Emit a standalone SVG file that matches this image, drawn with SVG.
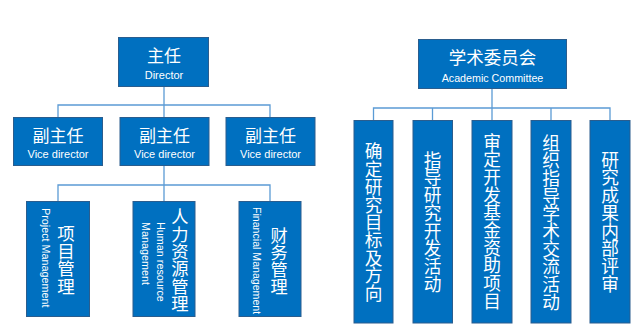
<svg xmlns="http://www.w3.org/2000/svg" width="644" height="336" viewBox="0 0 644 336">
<style>
.box{fill:#0070C0;stroke:#2a5d8e;stroke-width:1}
.ln{fill:none;stroke:#5b9bd5;stroke-width:1.3}
.zh{font-family:"Noto Sans CJK SC","Noto Sans",sans-serif;fill:#fff;text-anchor:middle}
.v{writing-mode:vertical-rl;text-orientation:upright}
.en{font-family:"Liberation Sans",Arial,sans-serif;fill:#fff}
.c{text-anchor:middle}
</style>
<rect width="644" height="336" fill="#fff"/>
<g id="connectors">
<path class="ln" d="M164,87V105M58,117V105H270V117M164,105V117"/>
<path class="ln" d="M164,166V185M58,201V185H270V201M164,185V201"/>
<path class="ln" d="M492,89V108M373.5,120V108H610V120M432.5,108V120M492,108V120M551,108V120"/>
</g>
<g id="director">
<rect class="box" x="118.5" y="37.5" width="90" height="49"/>
<text class="zh" x="164" y="62" font-size="17">主任</text>
<text class="en c" x="164" y="79" font-size="11">Director</text>
</g>
<g id="vice1">
<rect class="box" x="13.5" y="117.5" width="89" height="48"/>
<text class="zh" x="58" y="142" font-size="17">副主任</text>
<text class="en c" x="58" y="158" font-size="11">Vice director</text>
</g>
<g id="vice2">
<rect class="box" x="120" y="117.5" width="89" height="48"/>
<text class="zh" x="164.5" y="142" font-size="17">副主任</text>
<text class="en c" x="164.5" y="158" font-size="11">Vice director</text>
</g>
<g id="vice3">
<rect class="box" x="226" y="117.5" width="89" height="48"/>
<text class="zh" x="270.5" y="142" font-size="17">副主任</text>
<text class="en c" x="270.5" y="158" font-size="11">Vice director</text>
</g>
<g id="project">
<rect class="box" x="26.5" y="201.5" width="63" height="115"/>
<text class="en" font-size="10.8" transform="translate(41.5,208) rotate(90)">Project Management</text>
<text class="zh v" x="66" y="260" font-size="17.5">项目管理</text>
</g>
<g id="hr">
<rect class="box" x="133" y="201.5" width="62" height="115"/>
<text class="en" font-size="10.8" transform="translate(156.5,222) rotate(90)">Human resource</text>
<text class="en" font-size="10.8" transform="translate(142,222) rotate(90)">Management</text>
<text class="zh v" x="180" y="260" font-size="17.3">人力资源管理</text>
</g>
<g id="finance">
<rect class="box" x="239" y="201.5" width="62" height="115"/>
<text class="en" font-size="10.6" transform="translate(253,207) rotate(90)">Financial Management</text>
<text class="zh v" x="279" y="261" font-size="17.2">财务管理</text>
</g>
<g id="academic">
<rect class="box" x="418.5" y="39.5" width="148" height="49"/>
<text class="zh" x="492.5" y="63.5" font-size="17.5">学术委员会</text>
<text class="en c" x="492.5" y="81.5" font-size="10.7">Academic Committee</text>
</g>
<g id="col1">
<rect class="box" x="354" y="120.5" width="39" height="202.5"/>
<text class="zh v" x="373.5" y="222.5" font-size="17.7">确定研究目标及方向</text>
</g>
<g id="col2">
<rect class="box" x="413" y="120.5" width="39.5" height="202.5"/>
<text class="zh v" x="432.5" y="222" font-size="17.7">指导研究开发活动</text>
</g>
<g id="col3">
<rect class="box" x="472" y="120.5" width="40" height="202.5"/>
<text class="zh v" x="492" y="221.5" font-size="17.7">审定开发基金资助项目</text>
</g>
<g id="col4">
<rect class="box" x="531" y="120.5" width="40" height="202.5"/>
<text class="zh v" x="551" y="222.5" font-size="17.7">组织指导学术交流活动</text>
</g>
<g id="col5">
<rect class="box" x="590" y="120.5" width="40" height="202.5"/>
<text class="zh v" x="610" y="222" font-size="17.7">研究成果内部评审</text>
</g>
</svg>
